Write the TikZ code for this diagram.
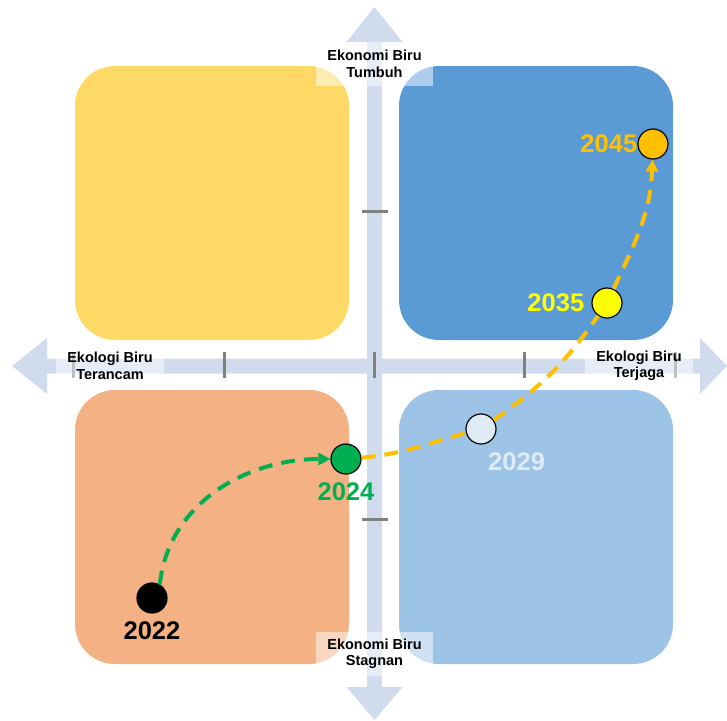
\documentclass[tikz,border=0pt]{standalone}
\usepackage{fontspec}
\setmainfont{Liberation Sans}
\usetikzlibrary{arrows.meta,positioning}

\definecolor{quadyellow}{RGB}{255,217,102}
\definecolor{quadblue}{RGB}{91,155,213}
\definecolor{quadorange}{RGB}{244,177,131}
\definecolor{quadlight}{RGB}{157,195,230}
\definecolor{axisblue}{RGB}{208,220,238}
\definecolor{tickgray}{RGB}{128,128,128}
\definecolor{yrgreen}{RGB}{0,176,80}
\definecolor{yrpale}{RGB}{222,235,247}
\definecolor{yryellow}{RGB}{255,255,0}
\definecolor{yrorange}{RGB}{255,192,0}

\begin{document}
\begin{tikzpicture}[
    x=1pt, y=-1pt,
    quad/.style={rectangle, rounded corners=40pt, minimum width=274pt, minimum height=274pt, inner sep=0pt},
    axisbar/.style={fill=axisblue},
    axtick/.style={draw=tickgray, line width=3pt},
    axlabel/.style={fill=white, fill opacity=0.5, text opacity=1, align=center, font=\fontsize{14.5}{16.5}\selectfont\bfseries, inner sep=0pt},
    dot/.style={circle, draw=black, line width=1.2pt, minimum size=30pt, inner sep=0pt},
    year/.style={font=\fontsize{25.5}{30}\selectfont\bfseries, inner sep=0pt},
    trend/.style={line width=4pt, dash pattern=on 14pt off 9pt}
]
    \useasboundingbox[fill=white] (0,0) rectangle (727,720);

    % Quadrants
    \node[quad, fill=quadyellow] (q1) at (212,203) {};
    \node[quad, fill=quadblue] (q2) at (536,203) {};
    \node[quad, fill=quadorange] (q3) at (212,527) {};
    \node[quad, fill=quadlight] (q4) at (536,527) {};

    % Axes
    \fill[axisbar] (374.5,7) -- (402.5,42) -- (382,42) -- (382,687) -- (402.5,687) -- (374.5,720)
        -- (346.5,687) -- (367,687) -- (367,42) -- (346.5,42) -- cycle;
    \fill[axisbar] (12,366) -- (47,338) -- (47,358.5) -- (700,358.5) -- (700,338) -- (727,366)
        -- (700,394) -- (700,373.5) -- (47,373.5) -- (47,394) -- cycle;

    % Ticks
    \foreach \tx in {73,224,374,524,675}
        \draw[axtick] (\tx,352) -- (\tx,378);
    \foreach \ty in {211,519}
        \draw[axtick] (362,\ty) -- (388,\ty);

    % Axis labels
    \node[axlabel, minimum width=117pt, minimum height=44pt] (top) at (374.5,64) {Ekonomi Biru\\Tumbuh};
    \node[axlabel, minimum width=117pt, minimum height=44pt] (bottom) at (374.5,654) {Ekonomi Biru\\Stagnan};
    \node[axlabel, minimum width=108pt, minimum height=42pt] (left) at (110,366) {Ekologi Biru\\Terancam};
    \node[axlabel, minimum width=108pt, minimum height=42pt] (right) at (639,366) {Ekologi Biru\\Terjaga};

    % Milestones
    \node[dot, fill=black] (d2022) at (152,598) {};
    \node[dot, fill=yrgreen] (d2024) at (346,459) {};
    \node[dot, fill=yrpale] (d2029) at (481,429) {};
    \node[dot, fill=yryellow] (d2035) at (607,303) {};
    \node[dot, fill=yrorange] (d2045) at (653,144) {};

    \node[year, below=8pt of d2022] (t2022) {2022};
    \node[year, text=yrgreen, below=8pt of d2024] (t2024) {2024};
    \node[year, text=yrpale, below right=12pt and -4pt of d2029] (t2029) {2029};
    \node[year, text=yryellow, left=7pt of d2035] (t2035) {2035};
    \node[year, text=yrorange, left=0pt of d2045] (t2045) {2045};

    % Paths
    \draw[trend, draw=yrgreen, -{Triangle[length=12pt,width=12pt]}] (d2022.60) to[out=84, in=180] (d2024);
    \draw[trend, draw=yrorange] (d2024) to[out=5, in=195] (d2029);
    \draw[trend, draw=yrorange] (d2029) to[out=35, in=235] (d2035);
    \draw[trend, draw=yrorange, -{Triangle[length=12pt,width=12pt]}] (d2035) to[out=65, in=-92] (d2045);
\end{tikzpicture}
\end{document}
